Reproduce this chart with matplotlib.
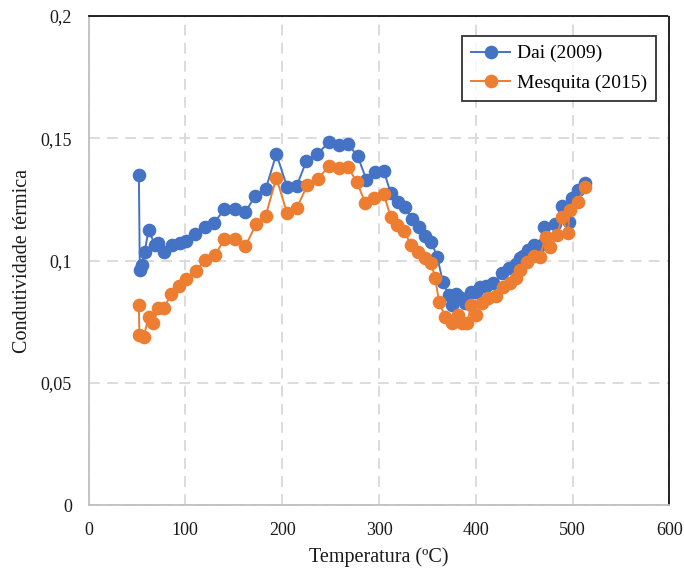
import matplotlib
matplotlib.use("Agg")
import matplotlib.pyplot as plt
from matplotlib.ticker import FixedLocator, FuncFormatter

# Thermal conductivity vs temperature, two literature sources
dai_temp = [52, 53, 55, 58, 62, 68.7, 72, 78, 86, 94, 101, 110, 120, 130, 140,
            151, 162, 172, 183, 194, 205, 215, 225, 236, 248, 259, 268, 278,
            287, 296, 305, 312, 320, 327, 334, 341, 348, 354, 360, 366, 372,
            375, 380, 385, 389, 395, 400, 404, 411, 418, 427, 434, 441, 446,
            449, 454, 460, 465, 470, 482, 489, 496, 499, 506, 513]
dai_k = [0.135, 0.096, 0.098, 0.1036, 0.1125, 0.1063, 0.107, 0.1036, 0.1063,
         0.107, 0.108, 0.1107, 0.1136, 0.1155, 0.1209, 0.1209, 0.1197, 0.1265,
         0.1292, 0.1436, 0.1302, 0.1305, 0.1407, 0.1434, 0.1483, 0.1472,
         0.1475, 0.1427, 0.133, 0.1363, 0.1366, 0.1277, 0.124, 0.122, 0.117,
         0.1138, 0.110, 0.1077, 0.1016, 0.0913, 0.0859, 0.0818, 0.0863, 0.0845,
         0.0828, 0.0873, 0.087, 0.0893, 0.0896, 0.0907, 0.0948, 0.0968, 0.0986,
         0.1009, 0.1018, 0.1043, 0.1063, 0.1059, 0.1138, 0.1149, 0.1224,
         0.1159, 0.1254, 0.1288, 0.1316]

mesq_temp = [52, 52.5, 57, 62, 67, 72, 78, 85, 93, 101, 111, 120, 131, 140,
             151, 162, 173, 183, 194, 205, 215, 226, 237, 248, 259, 268, 277,
             286, 295, 305, 312, 319, 326, 333, 340, 347, 354, 358, 362, 368,
             375, 382, 386, 391, 395, 400, 406, 413, 421, 428, 435, 441, 446,
             453, 460, 466, 472, 477, 484, 489, 495, 497, 505, 513]
mesq_k = [0.0818, 0.0695, 0.0688, 0.077, 0.0746, 0.0804, 0.0804, 0.0863,
          0.0896, 0.0923, 0.0957, 0.1002, 0.1022, 0.1088, 0.109, 0.1059,
          0.1148, 0.1183, 0.1339, 0.1193, 0.1213, 0.1309, 0.1333, 0.1387,
          0.138, 0.1381, 0.1322, 0.1234, 0.1254, 0.1271, 0.1179, 0.1145,
          0.1121, 0.1063, 0.1034, 0.1012, 0.0988, 0.0927, 0.0832, 0.077,
          0.0743, 0.0777, 0.0743, 0.0743, 0.0818, 0.0777, 0.0825, 0.0845,
          0.0854, 0.0893, 0.091, 0.0927, 0.0961, 0.0995, 0.1018, 0.1013,
          0.1097, 0.1054, 0.1104, 0.1179, 0.1111, 0.1207, 0.124, 0.1302]

series_names = ["Dai (2009)", "Mesquita (2015)"]
x_ticks = [0, 100, 200, 300, 400, 500, 600]
y_ticks = [0, 0.05, 0.1, 0.15, 0.2]

plt.rcParams["font.family"] = ["Liberation Serif", "DejaVu Serif"]

fig = plt.figure(figsize=(6.84, 5.72), dpi=100)
ax = fig.add_axes([0.1294, 0.1171, 0.8494, 0.8549])

blue = "#4472C4"
orange = "#ED7D31"
ax.plot(dai_temp, dai_k, color=blue, lw=1.4, marker="o", ms=8.8,
        label=series_names[0], zorder=3)
ax.plot(mesq_temp, mesq_k, color=orange, lw=1.4, marker="o", ms=8.8,
        label=series_names[1], zorder=3)

ax.set_xlim(0, 600)
ax.set_ylim(0, 0.2)
ax.xaxis.set_major_locator(FixedLocator(x_ticks))
ax.yaxis.set_major_locator(FixedLocator(y_ticks))
ax.yaxis.set_major_formatter(
    FuncFormatter(lambda v, p: ("%g" % round(v, 3)).replace(".", ",")))
ax.tick_params(axis="both", length=0, labelsize=13, colors="#1a1a1a")
ax.tick_params(axis="y", pad=12)
ax.tick_params(axis="x", pad=12)

ax.grid(True, color="#D9D9D9", lw=1.3, linestyle=(0, (6, 4)), zorder=0)
ax.set_axisbelow(True)

for side in ("left", "bottom"):
    ax.spines[side].set_color("#BFBFBF")
    ax.spines[side].set_linewidth(1.3)
for side in ("top", "right"):
    ax.spines[side].set_color("black")
    ax.spines[side].set_linestyle((0, (1, 1)))
    ax.spines[side].set_linewidth(1.2)

ax.set_xlabel("Temperatura (ºC)", fontsize=14.5, color="#1a1a1a", labelpad=6)
ax.set_ylabel("Condutividade térmica", fontsize=14.5, color="#1a1a1a",
              labelpad=6)

leg = ax.legend(loc="upper right", bbox_to_anchor=(0.977, 0.959),
                borderaxespad=0, fontsize=14, frameon=True, fancybox=False,
                edgecolor="black", handlelength=2.05, handletextpad=0.35,
                borderpad=0.45, labelspacing=0.6)
leg.get_frame().set_linewidth(1.3)

fig.savefig("out.png", dpi=100)
